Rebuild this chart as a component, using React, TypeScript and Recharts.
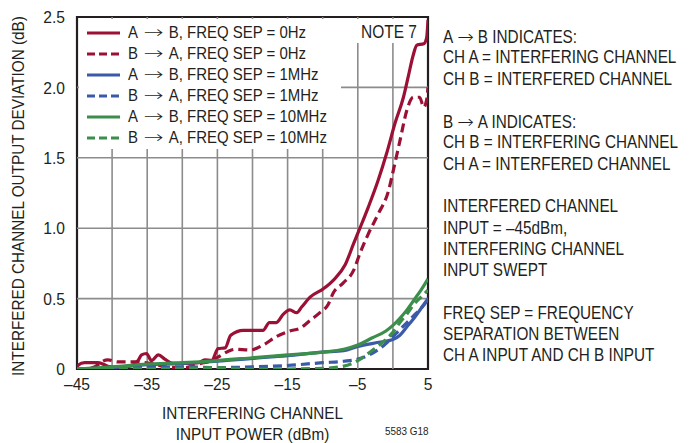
import React from 'react';
import { LineChart, Line, XAxis, YAxis, ReferenceLine, ReferenceArea, Legend } from 'recharts';

// ---- axes ----
const xTicks = [-45, -35, -25, -15, -5, 5];
const xGridValues = [-40, -35, -30, -25, -20, -15, -10, -5, 0];
const yTicks = [0, 0.5, 1, 1.5, 2, 2.5];
const yGridValues = [0.5, 1, 1.5, 2];

// ---- series: A -> B, FREQ SEP = 0Hz ----
const abZeroX = [-45, -44.9, -43.9, -42.0, -40.6, -39, -37.2, -36.3, -35.8, -35.1, -34.4, -33.4, -32.5, -31.3, -29.2, -27.7, -26.8, -25.8, -24.9, -23.9, -23.1, -21.3, -18.5, -17.6, -16.6, -15.6, -14.7, -13.7, -13.0, -11.8, -9.9, -8.5, -6.8, -5.6, -4.7, -3.5, -2.1, -0.9, 0.3, 1.5, 2.2, 2.9, 3.4, 4.4, 4.8, 5];
const abZeroY = [0, 0.025, 0.045, 0.045, 0.02, 0.01, 0.025, 0.06, 0.1, 0.11, 0.06, 0.1, 0.07, 0.04, 0.04, 0.045, 0.065, 0.06, 0.145, 0.15, 0.24, 0.275, 0.275, 0.33, 0.33, 0.39, 0.42, 0.4, 0.44, 0.51, 0.57, 0.63, 0.74, 0.89, 1.0, 1.15, 1.34, 1.53, 1.745, 1.93, 2.08, 2.23, 2.3, 2.31, 2.35, 2.48];

// ---- series: B -> A, FREQ SEP = 0Hz ----
const baZeroX = [-45, -43.2, -42, -41.5, -40.6, -39.2, -37.7, -36.5, -35.3, -33.9, -32.5, -29.7, -28.3, -27, -26.3, -24.9, -23.5, -22.5, -20.4, -18.5, -16.6, -14.7, -13.2, -11.8, -10.4, -9.2, -8.5, -7.1, -5.6, -4.7, -3.5, -2.1, -0.6, 0.1, 1.0, 2.0, 2.9, 3.8, 4.4, 4.8, 5];
const baZeroY = [0, 0.005, 0.03, 0.05, 0.065, 0.05, 0.05, 0.05, 0.045, 0.035, 0.015, 0.01, 0.025, 0.045, 0.05, 0.085, 0.125, 0.14, 0.135, 0.17, 0.23, 0.27, 0.29, 0.345, 0.4, 0.46, 0.54, 0.61, 0.7, 0.82, 0.96, 1.1, 1.27, 1.42, 1.62, 1.84, 1.93, 1.93, 1.86, 1.91, 2.0];

// ---- series: A -> B, FREQ SEP = 1MHz ----
const abOneX = [-45, -40, -35, -30, -25, -20, -15, -10, -7, -5, -2, 0, 1, 2, 3, 4, 5];
const abOneY = [0, 0.01, 0.03, 0.04, 0.055, 0.075, 0.095, 0.12, 0.13, 0.16, 0.19, 0.21, 0.24, 0.3, 0.36, 0.43, 0.5];

// ---- series: B -> A, FREQ SEP = 1MHz ----
const baOneX = [-45, -40, -35, -30, -25, -20, -15, -10, -7, -5, -3, -1, 0, 1, 2, 3, 4, 5];
const baOneY = [0, 0.005, 0.01, 0.015, 0.01, 0.015, 0.025, 0.045, 0.055, 0.07, 0.11, 0.18, 0.23, 0.28, 0.33, 0.38, 0.43, 0.49];

// ---- series: A -> B, FREQ SEP = 10MHz ----
const abTenX = [-45, -40, -35, -30, -25, -20, -15, -10, -7, -5, -3, -1, 0, 1, 2, 3, 4, 5];
const abTenY = [0, 0.015, 0.035, 0.045, 0.06, 0.08, 0.1, 0.12, 0.14, 0.17, 0.22, 0.27, 0.31, 0.36, 0.42, 0.49, 0.56, 0.64];

// ---- series: B -> A, FREQ SEP = 10MHz ----
const baTenX = [-45, -40, -30, -25, -20, -15, -10, -7, -5, -3, -1, 0, 1, 2, 3, 4, 5];
const baTenY = [0, 0.0, 0.005, 0.01, 0.0, 0.0, 0.005, 0.02, 0.06, 0.13, 0.21, 0.26, 0.33, 0.39, 0.46, 0.51, 0.56];

// ---- legend / notes text ----
const legendNames = [
  'A \u2192 B, FREQ SEP = 0Hz',
  'B \u2192 A, FREQ SEP = 0Hz',
  'A \u2192 B, FREQ SEP = 1MHz',
  'B \u2192 A, FREQ SEP = 1MHz',
  'A \u2192 B, FREQ SEP = 10MHz',
  'B \u2192 A, FREQ SEP = 10MHz',
];
const noteLines = [
  'A \u2192 B INDICATES:',
  'CH A = INTERFERING CHANNEL',
  'CH B = INTERFERED CHANNEL',
  '',
  'B \u2192 A INDICATES:',
  'CH B = INTERFERING CHANNEL',
  'CH A = INTERFERED CHANNEL',
  '',
  'INTERFERED CHANNEL',
  'INPUT = \u201345dBm,',
  'INTERFERING CHANNEL',
  'INPUT SWEPT',
  '',
  'FREQ SEP = FREQUENCY',
  'SEPARATION BETWEEN',
  'CH A INPUT AND CH B INPUT',
];
const xTitle = ['INTERFERING CHANNEL', 'INPUT POWER (dBm)'];
const yTitle = 'INTERFERED CHANNEL OUTPUT DEVIATION (dB)';
const noteLabel = 'NOTE 7';
const figCode = '5583 G18';

const RED = '#9b1035';
const BLUE = '#3b5aa8';
const GREEN = '#3c8e4b';
const FONT = "'Liberation Sans', Arial, sans-serif";
const TEXT = '#231f20';

const zip = (xs: number[], ys: number[]) => xs.map((x, i) => ({ x, y: ys[i] }));

const seriesDefs = [
  { name: legendNames[0], data: zip(abZeroX, abZeroY), color: RED, dash: undefined },
  { name: legendNames[1], data: zip(baZeroX, baZeroY), color: RED, dash: '9 5' },
  { name: legendNames[2], data: zip(abOneX, abOneY), color: BLUE, dash: undefined },
  { name: legendNames[3], data: zip(baOneX, baOneY), color: BLUE, dash: '9 5' },
  { name: legendNames[4], data: zip(abTenX, abTenY), color: GREEN, dash: undefined },
  { name: legendNames[5], data: zip(baTenX, baTenY), color: GREEN, dash: '9 5' },
];

// Renders text with a wide, thin arrow glyph like the reference typography.
const WithArrow = ({ text, boxW, k }: { text: string; boxW: number; k: number }) => {
  const parts = text.split('\u2192');
  if (parts.length === 1) return <>{text}</>;
  return (
    <>
      {parts[0].replace(/ $/, '')}
      <span style={{ display: 'inline-block', width: boxW, textAlign: 'center', fontFamily: "'DejaVu Sans', sans-serif", fontWeight: 300 }}>
        <span style={{ display: 'inline-block', transform: `scaleX(${k})` }}>{'\u2192'}</span>
      </span>
      {parts[1].replace(/^ /, '')}
    </>
  );
};

const Narrow = ({ children, s }: { children: React.ReactNode; s: number }) => (
  <span style={{ display: 'inline-block', whiteSpace: 'pre', transform: `scaleX(${s})`, transformOrigin: 'left center' }}>{children}</span>
);

const LegendContent = () => (
  <div style={{ background: '#fff', width: 262, height: 130, paddingTop: 3, boxSizing: 'border-box', fontFamily: FONT, fontSize: 17, color: TEXT }}>
    {seriesDefs.map((s) => (
      <div key={s.name} style={{ display: 'flex', alignItems: 'center', height: 21 }}>
        <svg width={34} height={8} style={{ marginLeft: 8, marginRight: 7, flex: 'none' }}>
          <line x1={0} y1={4} x2={33} y2={4} stroke={s.color} strokeWidth={3.2} strokeDasharray={s.dash ? '8 4' : undefined} />
        </svg>
        <Narrow s={0.88}><WithArrow text={s.name} boxW={35} k={1.6} /></Narrow>
      </div>
    ))}
  </div>
);

const XTick = (props: any) => {
  const { x, y, payload } = props;
  const v = payload.value as number;
  const label = v < 0 ? `\u2013${Math.abs(v)}` : `${v}`;
  return (
    <text transform={`translate(${x},${y}) scale(0.92,1)`} x={0} y={0} dy="0.71em" textAnchor="middle" fontFamily={FONT} fontSize={17} fill={TEXT}>{label}</text>
  );
};

const YTick = (props: any) => {
  const { x, y, payload } = props;
  const v = payload.value as number;
  const label = v === 0 ? '0' : v.toFixed(1);
  return (
    <text transform={`translate(${x},${y}) scale(0.92,1)`} x={0} y={0} dy="0.36em" textAnchor="end" fontFamily={FONT} fontSize={17} fill={TEXT}>{label}</text>
  );
};

const XTitle = (props: any) => {
  const vb = props.viewBox || {};
  const cx = vb.x + vb.width / 2;
  return (
    <g>
      <text transform={`translate(${cx},419) scale(0.9,1)`} textAnchor="middle" fontFamily={FONT} fontSize={17} fill={TEXT}>{xTitle[0]}</text>
      <text transform={`translate(${cx},440) scale(0.9,1)`} textAnchor="middle" fontFamily={FONT} fontSize={17} fill={TEXT}>{xTitle[1]}</text>
    </g>
  );
};

const YTitle = (props: any) => {
  const vb = props.viewBox || {};
  const cy = vb.y + vb.height / 2 + 3;
  return (
    <text transform={`translate(24,${cy}) rotate(-90) scale(0.9,1)`} textAnchor="middle" fontFamily={FONT} fontSize={17} fill={TEXT}>{yTitle}</text>
  );
};

export default function App() {
  return (
    <div style={{ position: 'absolute', left: 0, top: 0, width: 693, height: 443, background: '#fff', overflow: 'hidden' }}>
      <LineChart width={693} height={443} margin={{ top: 17, right: 265, left: 0, bottom: 44 }}>
        <XAxis
          dataKey="x"
          type="number"
          domain={[-45, 5]}
          ticks={xTicks}
          allowDataOverflow
          axisLine={false}
          tickLine={false}
          tickSize={0}
          tickMargin={9}
          height={30}
          tick={<XTick />}
          label={<XTitle />}
        />
        <YAxis
          type="number"
          domain={[0, 2.5]}
          ticks={yTicks}
          allowDataOverflow
          axisLine={false}
          tickLine={false}
          tickSize={0}
          tickMargin={12}
          width={77}
          tick={<YTick />}
          label={<YTitle />}
        />
        {xGridValues.map((v) => (
          <ReferenceLine key={`gx${v}`} x={v} stroke="#8c8c8c" strokeWidth={1.6} ifOverflow="hidden" />
        ))}
        {yGridValues.map((v) => (
          <ReferenceLine key={`gy${v}`} y={v} stroke="#8c8c8c" strokeWidth={1.6} ifOverflow="hidden" />
        ))}
        <ReferenceArea x1={-45} x2={5} y1={0} y2={2.5} fill="none" fillOpacity={0} stroke="#231f20" strokeWidth={2.2} />
        {seriesDefs.map((s) => (
          <Line
            key={s.name}
            data={s.data}
            dataKey="y"
            name={s.name}
            type="monotone"
            stroke={s.color}
            strokeWidth={3.2}
            strokeDasharray={s.dash}
            dot={false}
            activeDot={false}
            isAnimationActive={false}
          />
        ))}
        <Legend
          layout="vertical"
          align="center"
          verticalAlign="middle"
          content={<LegendContent />}
          wrapperStyle={{ left: 79, top: 19, width: 262, height: 130 }}
        />
      </LineChart>
      <div style={{ position: 'absolute', left: 351, top: 19, width: 68, height: 24, background: '#fff', fontFamily: FONT, fontSize: 18, color: TEXT, lineHeight: '26px', paddingLeft: 10, boxSizing: 'border-box' }}>
        <Narrow s={0.86}>{noteLabel}</Narrow>
      </div>
      <div style={{ position: 'absolute', left: 443, top: 26, fontFamily: FONT, fontSize: 18, color: TEXT, lineHeight: '21.3px' }}>
        {noteLines.map((l, i) => (
          <div key={i} style={{ height: 21.3 }}>
            {l ? <Narrow s={0.85}><WithArrow text={l} boxW={29} k={1.3} /></Narrow> : '\u00a0'}
          </div>
        ))}
      </div>
      <div style={{ position: 'absolute', left: 385, top: 425, fontFamily: FONT, fontSize: 11, color: TEXT }}>
        <Narrow s={0.9}>{figCode}</Narrow>
      </div>
    </div>
  );
}
